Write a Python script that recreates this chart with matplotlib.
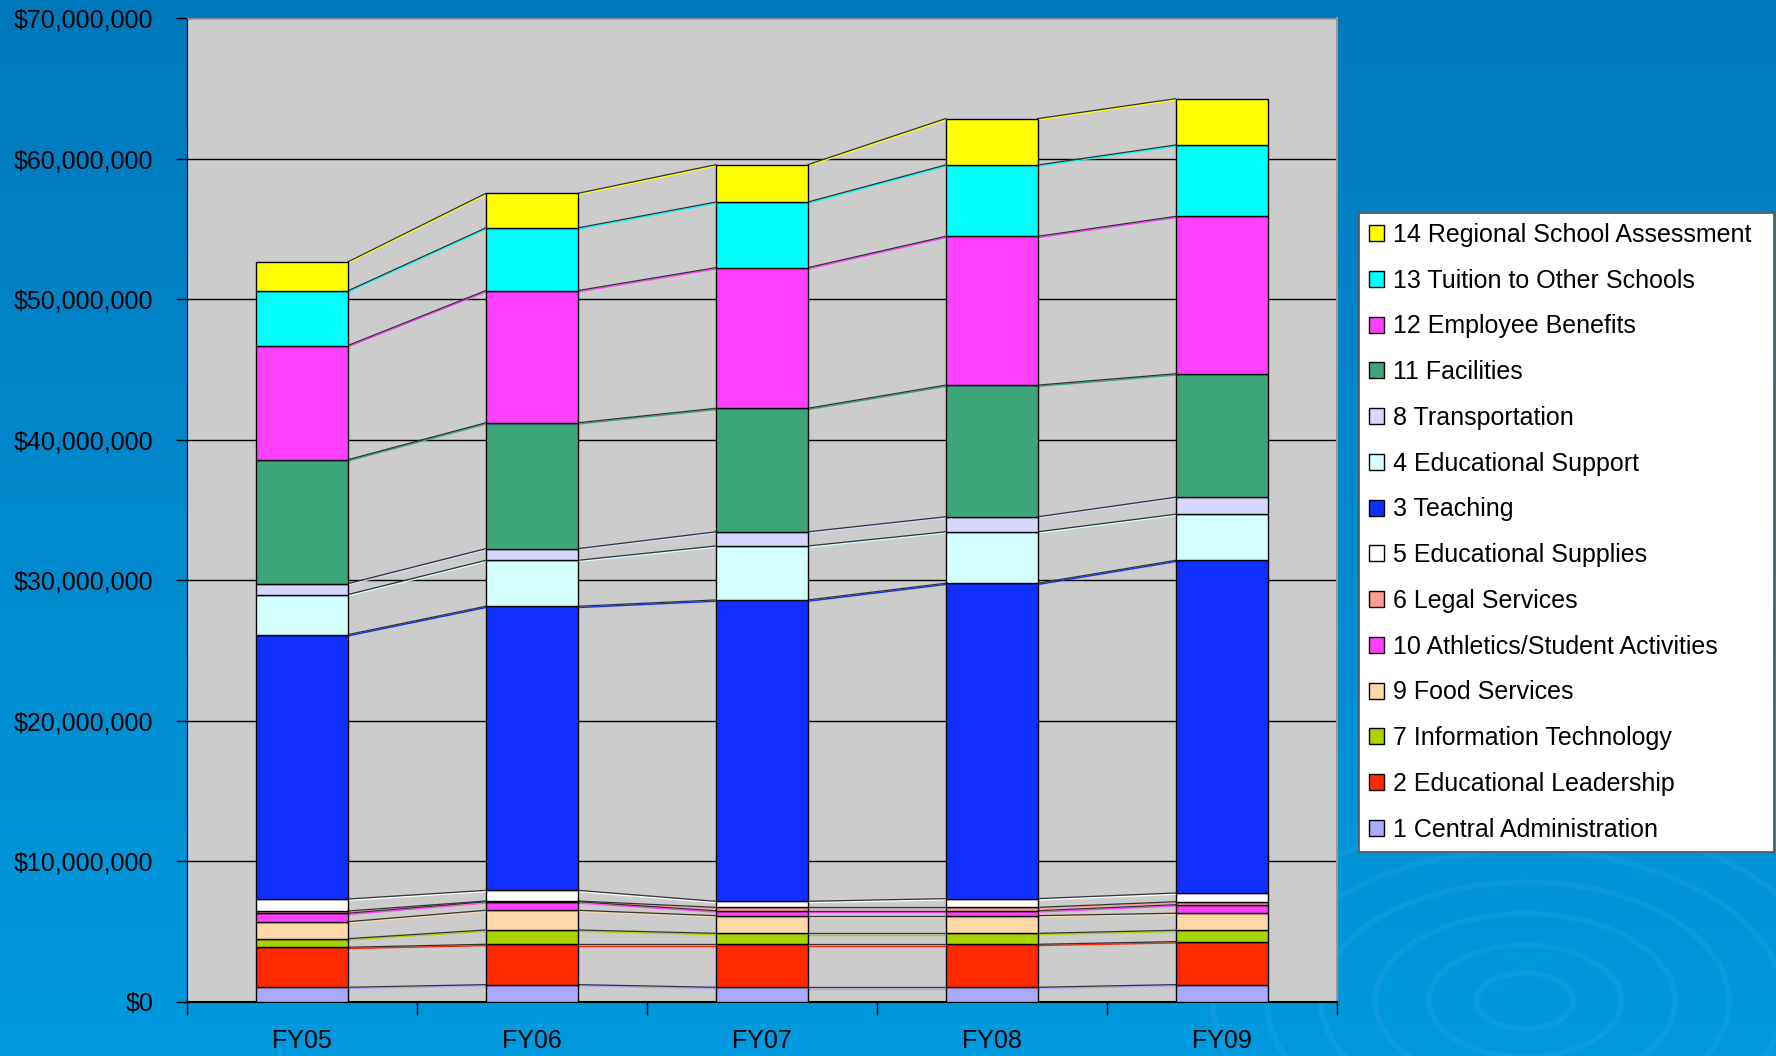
import matplotlib
matplotlib.use("Agg")
import matplotlib.pyplot as plt
import numpy as np
from matplotlib.patches import Patch, Ellipse
from matplotlib.ticker import FuncFormatter, FixedLocator
import matplotlib.transforms as mtransforms

plt.rcParams['font.family'] = ['Liberation Sans', 'DejaVu Sans']

years = ["FY05", "FY06", "FY07", "FY08", "FY09"]

# Values in $ millions, stacked bottom -> top
central_admin = [1.02, 1.21, 1.02, 1.02, 1.21]
edu_leadership = [2.85, 2.87, 3.06, 3.06, 3.06]
info_tech = [0.61, 1.02, 0.78, 0.78, 0.81]
food_services = [1.21, 1.40, 1.26, 1.26, 1.21]
athletics = [0.60, 0.61, 0.35, 0.35, 0.61]
legal_services = [0.16, 0.05, 0.24, 0.24, 0.21]
edu_supplies = [0.85, 0.76, 0.43, 0.62, 0.62]
teaching = [18.82, 20.22, 21.45, 22.45, 23.68]
edu_support = [2.85, 3.27, 3.84, 3.66, 3.28]
transportation = [0.78, 0.83, 1.01, 1.07, 1.21]
facilities = [8.82, 8.96, 8.79, 9.37, 8.79]
employee_benefits = [8.13, 9.41, 10.01, 10.59, 11.20]
tuition = [3.89, 4.46, 4.67, 5.08, 5.08]
regional_assessment = [2.06, 2.46, 2.66, 3.30, 3.30]

series_names = [
    "1 Central Administration", "2 Educational Leadership", "7 Information Technology",
    "9 Food Services", "10 Athletics/Student Activities", "6 Legal Services",
    "5 Educational Supplies", "3 Teaching", "4 Educational Support", "8 Transportation",
    "11 Facilities", "12 Employee Benefits", "13 Tuition to Other Schools",
    "14 Regional School Assessment",
]
series_values = [central_admin, edu_leadership, info_tech, food_services, athletics,
                 legal_services, edu_supplies, teaching, edu_support, transportation,
                 facilities, employee_benefits, tuition, regional_assessment]
series_colors = ["#A9A9FF", "#FF2A00", "#A8D400", "#FFD8A8", "#FF40FF", "#FF9A94",
                 "#FFFFFF", "#1030FF", "#D4FFFF", "#D6D6FF", "#3CA57A", "#FF40FF",
                 "#00FFFF", "#FFFF00"]

W, H = 1776, 1056
fig = plt.figure(figsize=(W / 100, H / 100), dpi=100)

# background gradient
bg = fig.add_axes([0, 0, 1, 1], zorder=-10)
top = np.array([0, 121, 188]) / 255
bot = np.array([0, 154, 222]) / 255
t = np.linspace(0, 1, 256)[:, None]
grad = top[None, None, :] * (1 - t[..., None]) + bot[None, None, :] * t[..., None]
grad = np.repeat(grad, 2, axis=1)
bg.imshow(grad, aspect='auto', extent=[0, W, 0, H], origin='upper')
# subtle ripples
for r in [40, 80, 125, 170, 215, 260]:
    e = Ellipse((1525, 55), 2 * r * 1.2, 2 * r * 0.7, fill=False,
                edgecolor=(0.2, 0.68, 0.92), lw=4, alpha=0.22)
    bg.add_patch(e)
bg.set_xlim(0, W)
bg.set_ylim(0, H)
bg.axis('off')

ax = fig.add_axes([0.1052, 0.0515, 0.7526 - 0.1052, 0.9828 - 0.0515])
ax.set_facecolor("#CCCCCC")

x = np.arange(len(years))
width = 0.4
bottom = np.zeros(len(years))
cum_tops = []
handles = []
for name, vals, col in zip(series_names, series_values, series_colors):
    v = np.array(vals) * 1e6
    ax.bar(x, v, width, bottom=bottom, color=col, edgecolor="black", linewidth=1.0, zorder=3)
    bottom = bottom + v
    cum_tops.append(bottom.copy())
    handles.append(Patch(facecolor=col, edgecolor="black", linewidth=1.0, label=name))

# series lines between bars
off = mtransforms.offset_copy(ax.transData, fig=fig, x=0, y=-1.3, units='dots')
for tops, col in zip(cum_tops, series_colors):
    for i in range(len(years) - 1):
        xs = [x[i] + width / 2, x[i + 1] - width / 2]
        ys = [tops[i], tops[i + 1]]
        ax.plot(xs, ys, color=col, lw=1.0, zorder=2, transform=off)
        ax.plot(xs, ys, color="#333333", lw=0.9, zorder=2.1)

ax.set_xlim(-0.5, len(years) - 0.5)
ax.set_ylim(0, 70e6)
ax.yaxis.set_major_locator(FixedLocator(np.arange(0, 70e6 + 1, 10e6)))
ax.yaxis.set_major_formatter(FuncFormatter(lambda v, p: "${:,.0f}".format(v)))
ax.grid(axis='y', color="black", lw=1.0, zorder=1)
ax.set_axisbelow(True)
ax.set_xticks(x)
ax.set_xticklabels(years)
ax.set_xticks(np.arange(-0.5, len(years)), minor=True)
ax.tick_params(axis='x', which='major', length=0, pad=20, labelsize=18, labelcolor='black')
ax.tick_params(axis='x', which='minor', length=9, width=1, color='black', direction='out')
ax.tick_params(axis='y', which='major', length=8, width=1, color='black', pad=16,
               labelsize=18, labelcolor='black')
ax.spines['left'].set_color('black')
ax.spines['bottom'].set_color('black')
ax.spines['bottom'].set_linewidth(1.5)
ax.spines['top'].set_color('#8A8A8A')
ax.spines['right'].set_color('#9A9A9A')
ax.spines['right'].set_linewidth(1.5)

leg = fig.legend(handles=handles[::-1], loc='upper left',
                 bbox_to_anchor=(0.7653, 0.2006, 0.2334, 0.5977), mode='expand',
                 fontsize=18, frameon=True, fancybox=False, edgecolor='#555555',
                 facecolor='white', framealpha=1, borderaxespad=0, labelspacing=0.87,
                 handlelength=0.6, handleheight=0.6, handletextpad=0.35,
                 borderpad=0.4)
leg.get_frame().set_linewidth(1.2)

fig.savefig("out.png", dpi=100)
